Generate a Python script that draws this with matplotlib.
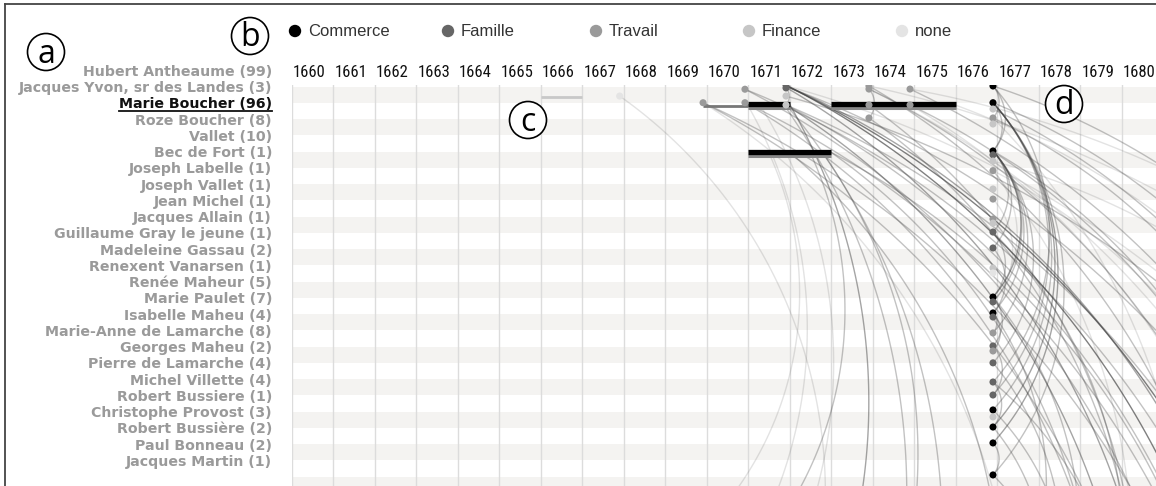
import numpy as np
import matplotlib
matplotlib.use("Agg")
import matplotlib.pyplot as plt
from matplotlib import font_manager as fm
from matplotlib.patches import Circle
from matplotlib.lines import Line2D
from matplotlib.transforms import IdentityTransform

W, H = 1156, 486

# ---------------------------------------------------------------- data
years = list(range(1660, 1681))

people = [
    "Hubert Antheaume (99)", "Jacques Yvon, sr des Landes (3)", "Marie Boucher (96)",
    "Roze Boucher (8)", "Vallet (10)", "Bec de Fort (1)", "Joseph Labelle (1)",
    "Joseph Vallet (1)", "Jean Michel (1)", "Jacques Allain (1)",
    "Guillaume Gray le jeune (1)", "Madeleine Gassau (2)", "Renexent Vanarsen (1)",
    "Renée Maheur (5)", "Marie Paulet (7)", "Isabelle Maheu (4)",
    "Marie-Anne de Lamarche (8)", "Georges Maheu (2)", "Pierre de Lamarche (4)",
    "Michel Villette (4)", "Robert Bussiere (1)", "Christophe Provost (3)",
    "Robert Bussière (2)", "Paul Bonneau (2)", "Jacques Martin (1)",
]
selected = "Marie Boucher (96)"

categories = ["Commerce", "Famille", "Travail", "Finance", "none"]
cat_colors = ["#000000", "#666666", "#9a9a9a", "#c6c6c6", "#e4e4e4"]

# event dots in the 1677 column: row, category index
C = 1676.9
col_row = [0.86, 1.89, 2.28, 2.83, 3.2, 4.86, 5.1, 5.48, 6.07, 7.2, 7.82, 9.05, 9.3,
           9.85, 10.83, 12.06, 12.37, 13.85, 14.15, 14.83, 15.08, 16.06, 16.86, 17.17,
           17.9, 19.08, 19.88, 20.8, 21.23, 21.85, 22.83, 24.8]
col_cat = [0, 0, 3, 2, 3, 0, 1, 3, 2, 3, 2, 2, 3, 1, 1, 3, 4, 0, 1, 0, 1, 2, 1, 2,
           1, 1, 1, 0, 3, 0, 0, 0]
# other event dots: year, row, category index
ev_year = [1670.92, 1669.91, 1670.92, 1671.91, 1671.91, 1671.91, 1671.91,
           1673.91, 1673.91, 1673.91, 1673.91, 1674.9, 1674.9, 1667.9]
ev_row = [1.06, 1.89, 1.89, 0.8, 0.98, 1.48, 2.03, 0.86, 1.05, 2.03, 2.83, 1.05, 2.03, 1.48]
ev_cat = [2, 2, 2, 1, 1, 3, 3, 2, 2, 2, 2, 2, 2, 4]

# period bars: row, start, end
bar_row = [1.97, 1.97, 4.95]
bar_start = [1671.0, 1673.0, 1671.0]
bar_end = [1672.0, 1676.0, 1673.0]
thin_row = [2.1, 1.54]
thin_start = [1669.91, 1666.0]
thin_end = [1671.0, 1667.0]
thin_tone = ["#777777", "#c8c8c8"]

# links: source (year,row) -> target (year,row), tone 0..3
edges = [
    # long diagonals from the early cluster
    (1671.91, 0.80, 1681.85, 66.9, 3), (1671.91, 0.85, 1683.7, 71.7, 3),
    (1671.91, 0.95, 1679.36, 59.4, 2), (1671.91, 0.90, 1686.6, 71.6, 1),
    (1671.91, 1.48, 1690.3, 73.7, 1), (1671.91, 2.03, 1678.57, 61.2, 2),
    (1671.91, 2.03, 1681.85, 68.1, 1), (1669.91, 1.89, 1679.85, 68.0, 1),
    (1669.91, 1.89, 1682.2, 72.2, 1), (1669.91, 1.89, 1675.9, 55.1, 0),
    (1670.92, 1.06, 1680.86, 67.1, 1), (1670.92, 1.89, 1682.2, 69.9, 1),
    (1670.92, 1.89, 1678.4, 60.4, 1), (1673.91, 0.86, 1681.4, 59.4, 1),
    (1673.91, 1.05, 1684.7, 66.2, 0), (1673.91, 2.03, 1678.5, 53.0, 1),
    (1674.9, 1.05, 1685.7, 66.2, 1), (1674.9, 2.03, 1682.35, 60.6, 0),
    (1675.96, 2.0, 1688.4, 61.7, 0), (1673.0, 4.95, 1677.6, 55.9, 1),
    (1673.0, 4.95, 1681.6, 62.4, 1), (1672.0, 4.95, 1674.66, 53.7, 1),
    (1671.91, 0.85, 1690.3, 73.1, 0), (1673.91, 0.86, 1695.2, 75.6, 0),
    (1674.9, 1.05, 1695.7, 68.9, 0), (1673.91, 2.83, 1678.5, 53.8, 1),
    (1671.91, 0.85, 1683.0, 62.0, 2), (1670.92, 1.06, 1683.5, 66.0, 1),
    (1673.91, 1.05, 1683.0, 57.0, 1), (1674.9, 2.03, 1684.0, 58.0, 1),
    (1671.91, 2.03, 1684.5, 70.0, 1),
    # from the 1677 column to the right
    (C, 0.86, 1688.96, 54.2, 1), (C, 1.89, 1686.4, 51.7, 1), (C, 2.83, 1684.45, 48.1, 1),
    (C, 4.86, 1682.9, 51.7, 1), (C, 5.48, 1690.05, 57.1, 0), (C, 6.07, 1683.8, 52.1, 0),
    (C, 2.28, 1685.5, 55.0, 1),
    # steep arcs dropping from the bars
    (1672.0, 2.0, 1667.98, 50.1, 2), (1671.91, 2.2, 1669.26, 57.2, 1),
    (1671.0, 2.1, 1667.96, 38.2, 0), (1672.5, 5.0, 1668.97, 34.4, 1),
    (1671.5, 5.0, 1668.3, 31.4, 0), (1671.91, 2.0, 1671.16, 57.3, 1),
    (1667.9, 1.48, 1671.4, 40.4, 0), (1672.8, 5.0, 1670.8, 47.8, 1),
    (1671.3, 2.1, 1668.56, 41.5, 0),
    # arcs inside the 1677 column
    (C, 1.89, C, 22.83, 2), (C, 1.89, C, 21.85, 2), (C, 1.89, C, 20.8, 1),
    (C, 1.89, C, 19.88, 1), (C, 1.89, C, 24.8, 1), (C, 0.86, C, 19.08, 1),
    (C, 4.86, C, 13.85, 2), (C, 4.86, C, 14.83, 1), (C, 4.86, C, 16.06, 1),
    (C, 4.86, C, 17.9, 1), (C, 4.86, C, 14.15, 1), (C, 4.86, C, 10.83, 1),
    (C, 4.86, C, 9.85, 1), (C, 0.86, C, 4.86, 1), (C, 0.86, C, 2.83, 1),
    (C, 1.89, C, 4.86, 1), (C, 14.83, C, 17.17, 1), (C, 14.83, C, 16.06, 1),
    (C, 13.85, C, 16.86, 1), (C, 22.83, C, 24.8, 1), (C, 9.85, C, 13.85, 1),
    (C, 10.83, C, 14.83, 1), (C, 6.07, C, 13.85, 0), (C, 7.82, C, 14.15, 0),
    (C, 19.08, C, 21.85, 1), (C, 16.86, C, 19.88, 1),
    (1673.91, 1.05, 1673.91, 2.83, 1), (1671.91, 0.98, 1671.91, 2.03, 1),
    # from the 1677 column downwards
    (C, 9.85, 1677.65, 46.7, 1), (C, 13.85, 1676.47, 44.6, 1), (C, 14.83, 1675.7, 39.3, 1),
    (C, 17.9, 1676.57, 42.5, 1), (C, 20.8, 1677.3, 42.3, 1), (C, 19.08, 1678.6, 49.5, 1),
    (C, 6.07, 1676.2, 55.3, 0), (C, 2.83, 1678.04, 58.2, 0), (C, 21.85, 1676.65, 40.3, 1),
    (C, 24.8, 1677.3, 43.3, 1),
]
edge_alpha = [0.15, 0.32, 0.48, 0.68]


def pick_font(names):
    for nm in names:
        try:
            fm.findfont(fm.FontProperties(family=nm), fallback_to_default=False)
            return nm
        except ValueError:
            pass
    return None


narrow = pick_font(["Liberation Sans Narrow", "Roboto Condensed", "DejaVu Sans Condensed",
                    "Open Sans Condensed", "Noto Sans Condensed", "Arial Narrow"])
year_family, year_size = (narrow, 12) if narrow else ("Roboto", 10.5)

# ---------------------------------------------------------------- figure
fig = plt.figure(figsize=(W / 100, H / 100), dpi=100)
ax = fig.add_axes([292 / W, 0, 1 - 292 / W, 1 - 85 / H])
ax.set_xlim(1660, 1680.83)
ax.set_ylim(25.48, 0.8)
ax.axis("off")

# striped rows
for k in range(13):
    ax.axhspan(0.92 + 2 * k, 1.9 + 2 * k, color="#f4f3f1", lw=0, zorder=0)
for yr in years:
    ax.axvline(yr, color="#dcdcdc", lw=1, zorder=1)


def arc(x0, r0, x1, r1, k=0.75, n=120):
    p0 = ax.transData.transform((x0, r0))
    p1 = ax.transData.transform((x1, r1))
    d = p1 - p0
    c = np.hypot(*d)
    R = k * c
    h = np.sqrt(R ** 2 - (c / 2) ** 2)
    cen = (p0 + p1) / 2 + h * np.array([d[1], -d[0]]) / c
    t0 = np.arctan2(*(p0 - cen)[::-1])
    t1 = np.arctan2(*(p1 - cen)[::-1])
    if t1 > t0:
        t1 -= 2 * np.pi
    t = np.linspace(t0, t1, n)
    pts = np.column_stack([cen[0] + R * np.cos(t), cen[1] + R * np.sin(t)])
    return ax.transData.inverted().transform(pts)


for x0, r0, x1, r1, tone in edges:
    pts = arc(x0, r0, x1, r1)
    ax.plot(pts[:, 0], pts[:, 1], color="#444444", alpha=edge_alpha[tone], lw=1.0, zorder=2)

for r, s, e, col in zip(thin_row, thin_start, thin_end, thin_tone):
    ax.plot([s, e], [r, r], color=col, lw=2, zorder=3, solid_capstyle="butt")
for r, s, e in zip(bar_row, bar_start, bar_end):
    ax.plot([s, e], [r + 0.22, r + 0.22], color="#888888", lw=2.2, zorder=3, solid_capstyle="butt")
    ax.plot([s, e], [r, r], color="#000000", lw=3.8, zorder=3.5, solid_capstyle="butt")

ax.scatter([C] * len(col_row), col_row, s=26, c=[cat_colors[i] for i in col_cat], lw=0, zorder=4)
ax.scatter(ev_year, ev_row, s=26, c=[cat_colors[i] for i in ev_cat], lw=0, zorder=4)

# year labels
for yr in years:
    ax.text(yr + 0.03, 0.05, str(yr), ha="left", va="center", fontsize=year_size,
            family=year_family, color="#111111", clip_on=False)

# person labels
label_tf = ax.get_yaxis_transform()
sel_text = None
for i, name in enumerate(people):
    hl = name == selected
    t = ax.text(-20 / 864, i, name, transform=label_tf, ha="right", va="center",
                fontsize=10.2, fontweight="bold", family="DejaVu Sans",
                color="#111111" if hl else "#9a9a9a", clip_on=False)
    if hl:
        sel_text = t

# legend row
leg_x = [295, 448, 596, 749, 902]
for x, lab, col in zip(leg_x, categories, cat_colors):
    fig.add_artist(Circle((x / 100, (H - 31) / 100), 0.062, transform=fig.dpi_scale_trans,
                          color=col, lw=0))
    fig.text((x + 13) / W, 1 - 31 / H, lab, ha="left", va="center", fontsize=12,
             family=["Liberation Sans", "DejaVu Sans"], color="#333333")

# circled panel letters
for lab, cx, cy in [("a", 46, 52), ("b", 250, 36), ("c", 528, 120), ("d", 1064, 104)]:
    fig.add_artist(Circle((cx / 100, (H - cy) / 100), 0.185, transform=fig.dpi_scale_trans,
                          fc="white", ec="black", lw=1.2, zorder=10))
    fig.text(cx / W, 1 - (cy + 2) / H, lab, ha="center", va="center", fontsize=23,
             family=["Open Sans", "DejaVu Sans"], color="black", zorder=11)

# outer frame (top and left edges visible)
fig.add_artist(Line2D([5 / W, 1], [1 - 4 / H, 1 - 4 / H], color="#444444", lw=1.3))
fig.add_artist(Line2D([5 / W, 5 / W], [0, 1 - 4 / H], color="#444444", lw=1.3))

# underline the selected person
fig.canvas.draw()
bb = sel_text.get_window_extent(fig.canvas.get_renderer())
fig.add_artist(Line2D([bb.x0, bb.x1], [bb.y0 + 0.5, bb.y0 + 0.5], transform=IdentityTransform(),
                      color="#111111", lw=1.3))

fig.savefig("out.png", dpi=100)
